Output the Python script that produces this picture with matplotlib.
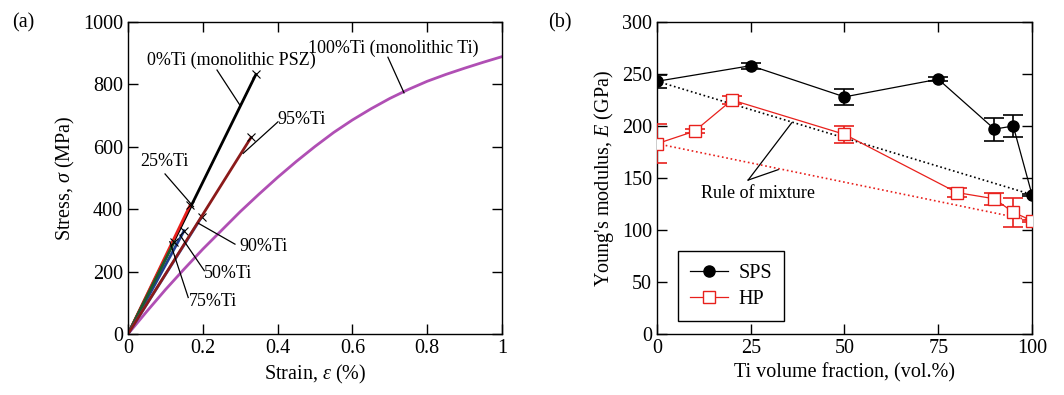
import matplotlib
matplotlib.use("Agg")
import matplotlib.pyplot as plt
import numpy as np

plt.rcParams['font.family'] = ['Liberation Serif', 'DejaVu Serif']
plt.rcParams['mathtext.fontset'] = 'custom'
plt.rcParams['mathtext.it'] = 'Liberation Serif:italic'
plt.rcParams['mathtext.rm'] = 'Liberation Serif'

# ---- Panel (a): stress-strain ----
ss_labels = ['0%Ti', '25%Ti', '50%Ti', '75%Ti', '90%Ti', '95%Ti']
ss_end_strain = [0.342, 0.166, 0.150, 0.124, 0.197, 0.329]
ss_end_stress = [832, 413, 331, 296, 375, 630]
ss_colors = ['black', '#e8201c', '#1f3f8f', '#1c5a2c', '#3d6fc4', '#8b1a1a']

ti_strain = [0, 0.05, 0.1, 0.15, 0.2, 0.25, 0.3, 0.35, 0.4, 0.45, 0.5,
             0.55, 0.6, 0.65, 0.7, 0.75, 0.8, 0.85, 0.9, 0.95, 1.0]
ti_stress = [0, 72, 142, 208, 272, 332, 392, 448, 502, 553, 601,
             646, 686, 722, 755, 784, 810, 832, 852, 871, 889]

# annotation labels: text, text position, leader start, leader end
ann_text = ['0%Ti (monolithic PSZ)', '100%Ti (monolithic Ti)', '95%Ti',
            '25%Ti', '90%Ti', '50%Ti', '75%Ti']
ann_pos = [(0.277, 878), (0.709, 917), (0.464, 686), (0.096, 552),
           (0.362, 280), (0.268, 194), (0.227, 104)]
ann_from = [(0.238, 846), (0.695, 887), (0.401, 680), (0.099, 513),
            (0.286, 288), (0.204, 203), (0.161, 117)]
ann_to = [(0.299, 734), (0.738, 773), (0.308, 579), (0.175, 408),
          (0.188, 355), (0.139, 317), (0.112, 296)]

# ---- Panel (b): Young's modulus ----
sps_x = [0, 25, 50, 75, 90, 95, 100]
sps_E = [243, 258, 228, 245, 197, 200, 134]
sps_err = [6, 3, 8, 2, 11, 11, 1]
hp_x = [0, 10, 20, 50, 80, 90, 95, 100]
hp_E = [183, 195, 225, 192, 136, 130, 117, 109]
hp_err = [19, 2, 4, 8, 4, 6, 14, 1]
rom_x = [0, 100]
rom_sps = [243, 134]
rom_hp = [183, 109]

fig = plt.figure(figsize=(10.64, 3.95), dpi=100)
ax1 = fig.add_axes([0.1203, 0.1544, 0.3515, 0.7899])
ax2 = fig.add_axes([0.6175, 0.1544, 0.3524, 0.7899])

fs = 14.5
afs = 13

# panel a
ax1.plot(ti_strain, ti_stress, color='#b04fb4', lw=2)
for s, st, c in zip(ss_end_strain, ss_end_stress, ss_colors):
    ax1.plot([0, s], [0, st], color=c, lw=2)
    ax1.plot([s], [st], marker='x', color='black', ms=6, mew=0.8)

for t, p, a, b in zip(ann_text, ann_pos, ann_from, ann_to):
    ax1.text(p[0], p[1], t, fontsize=afs, ha='center', va='center')
    ax1.plot([a[0], b[0]], [a[1], b[1]], color='black', lw=0.9)

ax1.set_xlim(0, 1)
ax1.set_ylim(0, 1000)
ax1.set_xticks([0, 0.2, 0.4, 0.6, 0.8, 1.0])
ax1.set_xticklabels(['0', '0.2', '0.4', '0.6', '0.8', '1'])
ax1.set_yticks([0, 200, 400, 600, 800, 1000])
ax1.set_xlabel(r'Strain, $\mathit{\varepsilon}$ (%)', fontsize=fs)
ax1.set_ylabel(r'Stress, $\mathit{\sigma}$ (MPa)', fontsize=fs)

# panel b
ax2.plot(rom_x, rom_sps, color='black', ls=':', lw=1.2)
ax2.plot(rom_x, rom_hp, color='#e8201c', ls=':', lw=1.2)
ax2.errorbar(sps_x, sps_E, yerr=sps_err, fmt='none', ecolor='black',
             capsize=7, elinewidth=1.2, capthick=1.2, zorder=3)
ax2.errorbar(hp_x, hp_E, yerr=hp_err, fmt='none', ecolor='#e8201c',
             capsize=7, elinewidth=1.2, capthick=1.2, zorder=3)
ax2.plot(sps_x, sps_E, color='black', lw=0.9, marker='o', ms=8,
         mfc='black', mec='black', label='SPS', zorder=4)
ax2.plot(hp_x, hp_E, color='#e8201c', lw=0.9, marker='s', ms=9,
         mfc='white', mec='#e8201c', mew=1.0, label='HP', zorder=4)

ax2.set_xlim(0, 100)
ax2.set_ylim(0, 300)
ax2.set_xticks([0, 25, 50, 75, 100])
ax2.set_yticks([0, 50, 100, 150, 200, 250, 300])
ax2.set_xlabel('Ti volume fraction, (vol.%)', fontsize=fs)
ax2.set_ylabel(r"Young's modulus, $\mathit{E}$ (GPa)", fontsize=fs)

ax2.text(27, 135.5, 'Rule of mixture', fontsize=afs, ha='center', va='center')
ax2.plot([24.3, 35.9], [148, 203], color='black', lw=0.9)
ax2.plot([24.3, 32.3], [148, 158], color='black', lw=0.9)

leg = ax2.legend(loc='lower left', bbox_to_anchor=(0.056, 0.042), fontsize=fs,
                 fancybox=False, edgecolor='black', framealpha=1,
                 handlelength=1.9, borderpad=0.6, labelspacing=0.35,
                 handletextpad=0.5, borderaxespad=0)
leg.get_frame().set_linewidth(1.0)

for ax in (ax1, ax2):
    ax.tick_params(direction='in', top=True, right=True, labelsize=fs,
                   length=7, width=1)
    for sp in ax.spines.values():
        sp.set_linewidth(1.0)

fig.text(0.011, 0.943, '(a)', fontsize=fs, va='center')
fig.text(0.515, 0.943, '(b)', fontsize=fs, va='center')

fig.savefig('out.png', dpi=100)
